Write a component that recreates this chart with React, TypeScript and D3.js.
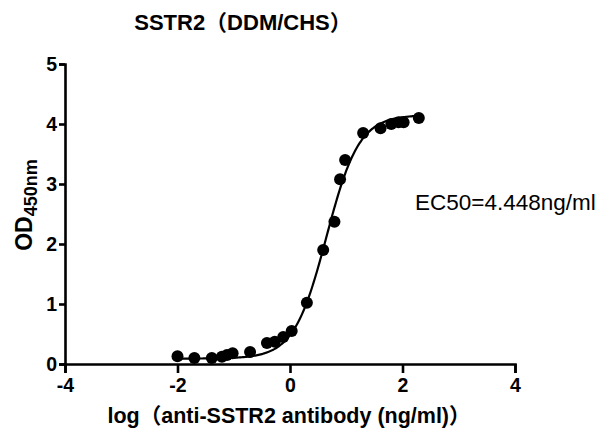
import React, { useRef, useEffect } from 'react';
import * as d3 from 'd3';

// log concentration (ng/ml) and OD450 readings
const logConc = [-2.0, -1.7, -1.39, -1.21, -1.12, -1.02, -0.71, -0.41, -0.27, -0.12, 0.03, 0.3, 0.59, 0.79, 0.89, 0.98, 1.3, 1.61, 1.8, 1.93, 2.02, 2.29];
const od450 = [0.13, 0.1, 0.1, 0.12, 0.15, 0.18, 0.2, 0.35, 0.37, 0.45, 0.55, 1.02, 1.9, 2.37, 3.08, 3.4, 3.85, 3.93, 4.0, 4.03, 4.03, 4.1];

// 4PL fit parameters
const fitBottom = 0.09;
const fitTop = 4.15;
const logEC50 = Math.log10(4.448);
const hillSlope = 1.5;

const xTicks = [-4, -2, 0, 2, 4];
const yTicks = [0, 1, 2, 3, 4, 5];

const W = 612;
const H = 439;

const App = () => {
  const svgRef = useRef(null);

  useEffect(() => {
    const svg = d3.select(svgRef.current);
    svg.selectAll('*').remove();

    const x = d3.scaleLinear().domain([-4, 4]).range([65, 515]);
    const y = d3.scaleLinear().domain([0, 5]).range([364, 64]);
    const font = 'Liberation Sans, Arial, "Noto Sans CJK SC", sans-serif';

    // axes
    const xAxis = svg.append('g')
      .attr('transform', `translate(0,${y(0)})`)
      .call(d3.axisBottom(x).tickValues(xTicks).tickSize(9).tickPadding(5).tickFormat(d => String(d)));
    const yAxis = svg.append('g')
      .attr('transform', `translate(${x(-4)},0)`)
      .call(d3.axisLeft(y).tickValues(yTicks).tickSize(6).tickPadding(2).tickFormat(d => String(d)));

    [xAxis, yAxis].forEach(a => {
      a.select('.domain').attr('stroke', '#000').attr('stroke-width', 2.6);
      a.selectAll('line').attr('stroke', '#000').attr('stroke-width', 2.6);
      a.selectAll('text')
        .attr('fill', '#000')
        .style('font-family', font)
        .style('font-weight', 'bold')
        .style('font-size', '19.5px');
    });

    // fitted curve
    const fit = (lx) => fitBottom + (fitTop - fitBottom) / (1 + Math.pow(10, (logEC50 - lx) * hillSlope));
    const curveX = d3.range(-2, 2.29 + 0.001, 0.02);
    svg.append('path')
      .datum(curveX)
      .attr('fill', 'none')
      .attr('stroke', '#000')
      .attr('stroke-width', 2.2)
      .attr('d', d3.line().x(d => x(d)).y(d => y(fit(d))));

    // points
    svg.selectAll('.pt')
      .data(logConc)
      .enter().append('circle')
      .attr('class', 'pt')
      .attr('cx', d => x(d))
      .attr('cy', (d, i) => y(od450[i]))
      .attr('r', 6)
      .attr('fill', '#000');

    // title
    svg.append('text')
      .attr('x', 243).attr('y', 30)
      .attr('text-anchor', 'middle')
      .style('font-family', font).style('font-weight', 'bold').style('font-size', '22px')
      .text('SSTR2（DDM/CHS）');

    // x label
    svg.append('text')
      .attr('x', 289).attr('y', 423)
      .attr('text-anchor', 'middle')
      .style('font-family', font).style('font-weight', 'bold').style('font-size', '21.5px')
      .text('log（anti-SSTR2 antibody (ng/ml)）');

    // y label
    const yl = svg.append('text')
      .attr('transform', 'translate(32,205) rotate(-90)')
      .attr('text-anchor', 'middle')
      .style('font-family', font).style('font-weight', 'bold').style('font-size', '23px');
    yl.append('tspan').text('OD');
    yl.append('tspan').attr('dy', 5).style('font-size', '18px').text('450nm');

    // EC50 annotation
    svg.append('text')
      .attr('x', 415).attr('y', 210)
      .style('font-family', font).style('font-size', '22.5px')
      .text('EC50=4.448ng/ml');
  }, []);

  return (
    <svg ref={svgRef} width={W} height={H} style={{ display: 'block', position: 'absolute', left: 0, top: 0, background: '#fff' }} />
  );
};

export default App;
